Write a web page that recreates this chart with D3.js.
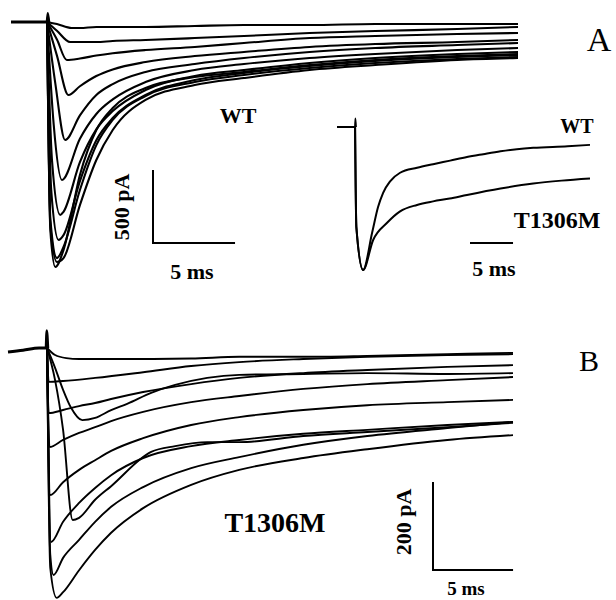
<!DOCTYPE html>
<html>
<head>
<meta charset="utf-8">
<script src="https://cdn.jsdelivr.net/npm/d3@7"></script>
<style>
html, body { margin: 0; padding: 0; background: #fff; }
svg { display: block; }
text { font-family: "Liberation Serif", "Times New Roman", serif; fill: #000; }
</style>
</head>
<body>
<div id="graphic"></div>
<script>
// panel A, WT family: [ms, pA]
var baseA = [[-2.2, 0], [0, 0]];
var spikeA = [[0, 0], [0.03, 60], [0.08, 0]];
var tracesA = [
  [[0,0],[0.6,-14],[1.5,-41],[2,-41],[3,-34],[4,-34],[6,-34],[9,-27],[12,-21],[16,-21],[20,-14],[25,-14],[28.7,-14]],
  [[0,0],[0.6,-60],[1.4,-137],[2,-137],[3,-137],[4,-130],[6,-123],[9,-110],[12,-96],[16,-75],[20,-62],[25,-48],[28.7,-34]],
  [[0,0],[0.6,-120],[1.2,-260],[2,-250],[3,-230],[4,-214],[6,-192],[9,-171],[12,-144],[16,-110],[20,-96],[25,-82],[28.7,-75]],
  [[0,0],[0.6,-230],[1.3,-500],[2,-440],[3,-370],[4,-325],[6,-274],[9,-233],[12,-205],[16,-171],[20,-151],[25,-137],[28.7,-123]],
  [[0,0],[0.5,-420],[1.1,-808],[2,-640],[3,-500],[4,-425],[6,-342],[9,-288],[12,-247],[16,-205],[20,-178],[25,-158],[28.7,-144]],
  [[0,0],[0.4,-700],[0.9,-1082],[2,-800],[3,-630],[4,-530],[6,-411],[9,-329],[12,-288],[16,-247],[20,-219],[25,-192],[28.7,-178]],
  [[0,0],[0.3,-950],[0.8,-1322],[1,-1300],[2,-960],[3,-735],[4,-610],[6,-466],[9,-370],[12,-329],[16,-281],[20,-247],[25,-219],[28.7,-205]],
  [[0,0],[0.25,-1150],[0.7,-1493],[1,-1460],[2,-1090],[3,-810],[4,-658],[6,-500],[9,-397],[12,-349],[16,-301],[20,-267],[25,-240],[28.7,-226]],
  [[0,0],[0.2,-1350],[0.6,-1617],[1,-1540],[2,-1151],[3,-843],[4,-671],[6,-507],[9,-411],[12,-363],[16,-315],[20,-281],[25,-253],[28.7,-240]],
  [[0,0],[0.2,-1430],[0.5,-1678],[1,-1562],[2,-1048],[3,-740],[4,-589],[6,-452],[9,-377],[12,-342],[16,-295],[20,-260],[25,-233],[28.7,-219]],
  [[0,0],[0.2,-1400],[0.6,-1644],[1,-1617],[2,-1254],[3,-945],[4,-740],[6,-534],[9,-432],[12,-384],[16,-329],[20,-295],[25,-260],[28.7,-247]]
];

// inset, normalized current
var baseInset = [[-2.1, 0], [0, 0]];
var spikeInset = [[0, 0], [0.03, 0.06], [0.08, 0]];
var insetWT = [[0,0],[0.15,-0.7],[0.93,-1.0],[1.98,-0.74],[2.67,-0.56],[3.26,-0.46],[4.07,-0.38],[5.23,-0.32],[7.21,-0.285],[9.07,-0.26],[11.05,-0.235],[13,-0.21],[14.9,-0.19],[16.9,-0.17],[18.8,-0.155],[20.7,-0.145],[24.7,-0.135],[27.3,-0.125]];
var insetMut = [[0,0],[0.15,-0.7],[0.93,-1.0],[2.1,-0.79],[3.72,-0.67],[5.23,-0.59],[7.2,-0.545],[9.07,-0.52],[11,-0.5],[13,-0.475],[16.9,-0.43],[20.7,-0.395],[24,-0.375],[27.3,-0.36]];

// panel B, T1306M family: [ms, pA]
var baseB = [[-2.44, -9], [-1.5, -5], [-0.5, 0], [0, 0]];
var spikeB = [[0, 0], [0.03, 40], [0.08, 0]];
var tracesB = [
  [[0,0],[0.5,-16],[1.2,-23],[2,-25],[4,-25],[6,-25],[9,-24],[12,-20],[16,-20],[20,-18],[25,-14],[29.1,-11]],
  [[0,0],[0.5,-45],[1,-95],[1.5,-136],[2.2,-164],[3,-159],[4,-141],[5,-127],[6.5,-102],[8,-84],[10,-68],[12,-61],[16,-59],[20,-57],[25,-59],[29.1,-57]],
  [[0,0],[0.5,-73],[1,-186],[1.6,-391],[2,-386],[3,-345],[4,-314],[6.5,-236],[8,-223],[10,-214],[12,-214],[16,-200],[20,-191],[25,-180],[29.1,-170]],
  [[0,0],[0.1,-77],[1,-75],[3,-68],[6,-55],[9,-41],[12,-32],[16,-25],[20,-20],[25,-16],[29.1,-14]],
  [[0,0],[0.1,-148],[1,-141],[2,-132],[3,-125],[4,-116],[6,-100],[9,-82],[12,-68],[16,-57],[20,-50],[25,-43],[29.1,-39]],
  [[0,0],[0.15,-225],[1,-209],[2,-193],[3,-180],[4,-166],[6,-145],[9,-123],[12,-109],[16,-93],[20,-82],[25,-73],[29.1,-66]],
  [[0,0],[0.2,-334],[1,-305],[2,-277],[3,-255],[4,-234],[6,-205],[9,-175],[12,-157],[16,-141],[20,-130],[25,-123],[29.1,-118]],
  [[0,0],[0.25,-441],[1,-395],[2,-352],[3,-318],[4,-289],[6,-250],[9,-223],[12,-209],[16,-195],[20,-186],[25,-175],[29.1,-168]],
  [[0,0],[0.2,-470],[0.4,-516],[1,-477],[2,-436],[3,-395],[4,-361],[6,-316],[9,-273],[12,-248],[16,-220],[20,-200],[25,-182],[29.1,-168]],
  [[0,0],[0.2,-500],[0.6,-568],[1,-555],[2,-505],[3,-459],[4,-420],[6,-364],[9,-311],[12,-277],[16,-250],[20,-230],[25,-209],[29.1,-198]]
];

// scale bar sizes
var barTime = 5, barA = 500, barB = 200;

var chart = new Object;

chart.create = function() {
  var svg, xA, yA, xI, yI, xB, yB, lineOf, drawSet;
  svg = d3.select("#graphic").append("svg").attr("width", 616).attr("height", 600);
  svg.append("rect").attr("width", 616).attr("height", 600).attr("fill", "#fff");

  xA = d3.scaleLinear().domain([-2.2, 28.7]).range([11, 518]);
  yA = d3.scaleLinear().domain([0, -1700]).range([22, 270.2]);
  xI = d3.scaleLinear().domain([-2.1, 27.3]).range([337, 590]);
  yI = d3.scaleLinear().domain([0, -1]).range([127, 270]);
  xB = d3.scaleLinear().domain([-2.44, 29.1]).range([8, 513]);
  yB = d3.scaleLinear().domain([0, -600]).range([348, 612]);

  lineOf = function(x, y) {
    return d3.line().x(function(d) { return x(d[0]); }).y(function(d) { return y(d[1]); }).curve(d3.curveMonotoneX);
  };

  drawSet = function(data, x, y, w) {
    svg.append("g").selectAll("path").data(data).enter().append("path")
      .attr("d", lineOf(x, y))
      .attr("fill", "none").attr("stroke", "#000")
      .attr("stroke-width", w).attr("stroke-linejoin", "round");
  };

  // panel A
  drawSet([baseA], xA, yA, 3);
  drawSet([spikeA], d3.scaleLinear().domain([0, 0.08]).range([47, 49]), yA, 2.5);
  drawSet(tracesA, xA, yA, 2.1);

  // inset
  drawSet([baseInset], xI, yI, 2);
  drawSet([spikeInset], d3.scaleLinear().domain([0, 0.08]).range([355, 356]), yI, 1.8);
  drawSet([insetWT, insetMut], xI, yI, 2);

  // panel B
  drawSet([baseB], xB, yB, 3);
  drawSet([spikeB], d3.scaleLinear().domain([0, 0.08]).range([46, 48]), yB, 2.5);
  drawSet(tracesB, xB, yB, 1.9);

  // scale bars
  var bar = function(x0, y0, w, h) {
    svg.append("path")
      .attr("d", "M" + x0 + "," + (y0 - h) + "V" + y0 + "H" + (x0 + w))
      .attr("fill", "none").attr("stroke", "#000").attr("stroke-width", 2);
  };
  bar(153, 243, xA(barTime) - xA(0), yA(-barA) - yA(0));
  bar(433, 570, xB(barTime) - xB(0), yB(-barB) - yB(0));
  svg.append("line")
    .attr("x1", 470).attr("x2", 470 + xI(barTime) - xI(0))
    .attr("y1", 243).attr("y2", 243)
    .attr("stroke", "#000").attr("stroke-width", 2);

  // labels
  var label = function(x, y, s, size, weight, rot) {
    var t = svg.append("text").attr("x", x).attr("y", y).attr("text-anchor", "middle")
      .attr("font-size", size).attr("font-weight", weight).text(s);
    if (rot) t.attr("transform", "rotate(-90," + x + "," + y + ")");
    return t;
  };
  label(238, 123, "WT", 22, "bold");
  label(129, 207, "500 pA", 22, "bold", true);
  label(192, 279, "5 ms", 22, "bold");
  label(577, 133, "WT", 20, "bold");
  label(557, 228, "T1306M", 24, "bold");
  label(494, 276, "5 ms", 22, "bold");
  label(599, 51, "A", 34, "normal");
  label(589, 371, "B", 30, "normal");
  label(275, 532, "T1306M", 28, "bold");
  label(411, 522, "200 pA", 22, "bold", true);
  label(466, 595, "5 ms", 19, "bold");
};

chart.create();
</script>
</body>
</html>
